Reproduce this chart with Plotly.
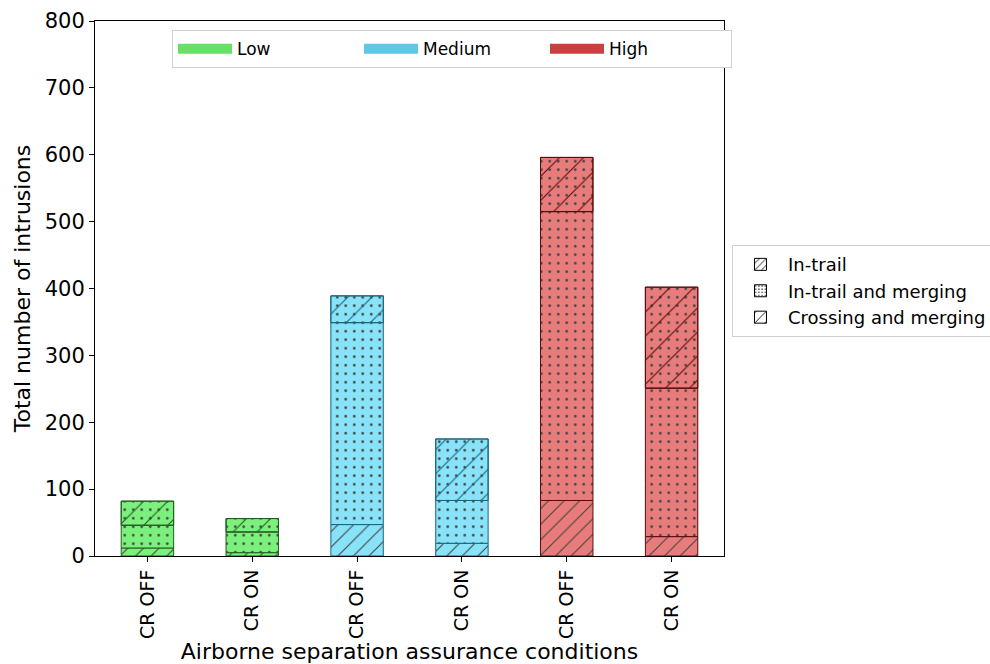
import numpy as np
import plotly.graph_objects as go

# ---- data ----
tick_labels = ["CR OFF", "CR ON", "CR OFF", "CR ON", "CR OFF", "CR ON"]
levels = ["Low", "Low", "Medium", "Medium", "High", "High"]
level_names = ["Low", "Medium", "High"]
in_trail = [12, 5, 47, 19, 83, 29]
in_trail_merging = [34, 31, 302, 64, 432, 222]
crossing_merging = [36, 20, 40, 92, 81, 151]
hatch_names = ["In-trail", "In-trail and merging", "Crossing and merging"]

# ---- styles ----
legend_colors = {"Low": "#66e066", "Medium": "#5ec8e5", "High": "#c84040"}
fill_colors = {"Low": "#7cf07c", "Medium": "#88e2f8", "High": "#e87c7c"}
edge_colors = {"Low": "#1f5f1f", "Medium": "#17677d", "High": "#5a0c0c"}
FONT = "DejaVu Sans"

x = list(range(len(tick_labels)))
fills = [fill_colors[l] for l in levels]
edges = [edge_colors[l] for l in levels]

b1 = np.zeros(len(x))
b2 = b1 + np.array(in_trail)
b3 = b2 + np.array(in_trail_merging)

fig = go.Figure()

def seg(y, base, shape, size, solidity, transparent=False):
    return go.Bar(
        x=x, y=y, base=base, width=0.5, showlegend=False, hoverinfo="skip",
        marker=dict(
            color="rgba(0,0,0,0)" if transparent else fills,
            line=dict(color=edges, width=1),
            pattern=dict(shape=shape, size=size, solidity=solidity,
                         fgcolor=edges, fgopacity=1, fillmode="overlay"),
        ),
    )

fig.add_trace(seg(in_trail, b1, "/", 11, 0.1))
fig.add_trace(seg(in_trail_merging, b2, ".", 8.5, 0.08))
fig.add_trace(seg(crossing_merging, b3, ".", 8.5, 0.08))
fig.add_trace(seg(crossing_merging, b3, "/", 17, 0.065, transparent=True))

# legend 1: risk levels
for lv in level_names:
    fig.add_trace(go.Scatter(
        x=[None], y=[None], mode="lines", name=lv, legend="legend",
        line=dict(color=legend_colors[lv], width=13),
    ))

# legend 2: hatch meaning
legend_hatch = [("/", 6, 0.18), (".", 4, 0.15), ("/", 9, 0.12)]
for name, (shp, sz, sol) in zip(hatch_names, legend_hatch):
    fig.add_trace(go.Bar(
        x=[None], y=[None], name=name, legend="legend2",
        marker=dict(color="white", line=dict(color="black", width=1),
                    pattern=dict(shape=shp, size=sz, solidity=sol,
                                 fgcolor="black", fgopacity=1,
                                 fillmode="overlay")),
    ))

fig.update_layout(
    width=990, height=664,
    margin=dict(l=95, r=266, t=21, b=108, autoexpand=False),
    barmode="overlay",
    plot_bgcolor="white", paper_bgcolor="white",
    font=dict(family=FONT, color="black"),
    xaxis=dict(
        range=[-0.5, 5.5], tickmode="array", tickvals=x, ticktext=tick_labels,
        tickangle=-90, tickfont=dict(size=19), showgrid=False, zeroline=False,
        showline=True, mirror=True, linecolor="black", linewidth=1,
        ticks="outside", ticklen=5, tickwidth=1, tickcolor="black",
        title=dict(text="Airborne separation assurance conditions",
                   font=dict(size=22), standoff=6),
    ),
    yaxis=dict(
        range=[0, 800], dtick=100, tickfont=dict(size=21), showgrid=False,
        zeroline=False, showline=True, mirror=True, linecolor="black",
        linewidth=1, ticks="outside", ticklen=5, tickwidth=1, tickcolor="black",
        title=dict(text="Total number of intrusions", font=dict(size=22),
                   standoff=8),
    ),
    legend=dict(
        orientation="h", x=0.1224, xanchor="left", y=0.983, yanchor="top",
        font=dict(size=17), bordercolor="#d0d0d0", borderwidth=1,
        bgcolor="white", entrywidth=117, itemwidth=54,
    ),
    legend2=dict(
        x=1.0127, xanchor="left", y=0.581, yanchor="top",
        font=dict(size=18), bordercolor="#d0d0d0", borderwidth=1,
        bgcolor="white", itemwidth=45,
    ),
)

fig.write_html("out.html")
